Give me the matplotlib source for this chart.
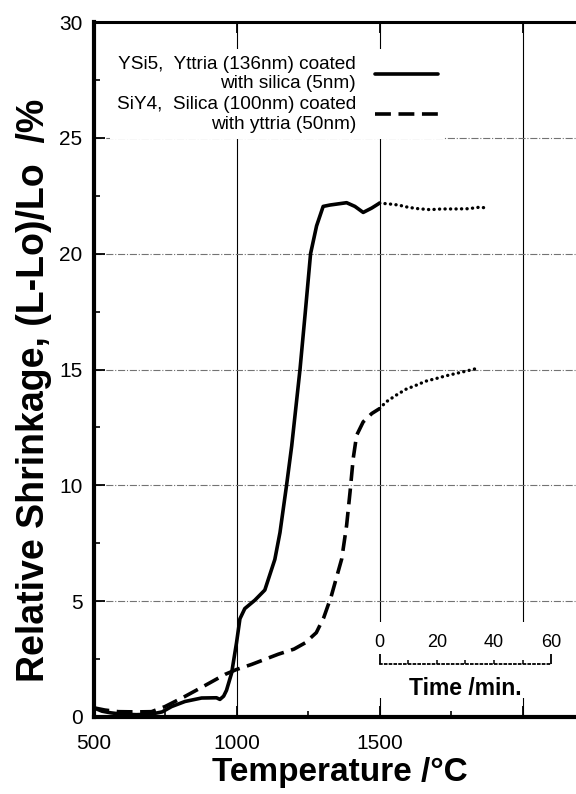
import numpy as np
import matplotlib
matplotlib.use("Agg")
import matplotlib.pyplot as plt
from matplotlib.ticker import FixedLocator, FuncFormatter

plt.rcParams['font.family'] = ['Liberation Sans', 'DejaVu Sans']

# heating part, temperature in degC vs shrinkage in %
ysi5_temp = [500, 530, 560, 600, 650, 700, 740, 773, 820, 878, 930, 942, 955, 965, 983,
             1000, 1012, 1029, 1064, 1099, 1134, 1152, 1175, 1193, 1222, 1240, 1259,
             1280, 1303, 1327, 1385, 1414, 1443, 1473, 1500]
ysi5_shr = [0.4, 0.25, 0.18, 0.12, 0.1, 0.12, 0.22, 0.45, 0.67, 0.82, 0.83, 0.76, 0.9, 1.15, 1.9,
            3.2, 4.24, 4.68, 5.04, 5.48, 6.8, 7.96, 10.0, 11.7, 15.0, 17.4, 20.0,
            21.2, 22.04, 22.1, 22.2, 22.04, 21.78, 21.97, 22.18]

siy4_temp = [500, 540, 587, 650, 703, 750, 820, 890, 960, 1000, 1053, 1146, 1201, 1240,
             1279, 1305, 1331, 1368, 1385, 1397, 1408, 1420, 1443, 1473, 1500]
siy4_shr = [0.4, 0.3, 0.23, 0.22, 0.23, 0.45, 0.89, 1.36, 1.84, 2.05, 2.27, 2.71, 2.93, 3.2,
            3.64, 4.29, 5.2, 6.83, 8.27, 9.71, 11.15, 12.16, 12.74, 13.1, 13.31]

# isothermal hold at 1500 degC, time in min
ysi5_time = [0, 3.1, 6.6, 10.1, 13.6, 17.7, 21.8, 26.5, 31.1, 34.6, 37.5]
ysi5_hold = [22.18, 22.15, 22.1, 22.0, 21.94, 21.9, 21.93, 21.93, 21.94, 22.0, 21.98]
siy4_time = [0, 2.3, 5.8, 9.3, 12.8, 16.3, 19.8, 23.3, 26.8, 30.3, 33.8]
siy4_hold = [13.31, 13.6, 13.89, 14.15, 14.32, 14.5, 14.61, 14.73, 14.83, 14.93, 15.04]

label_ysi5 = 'YSi5,  Yttria (136nm) coated\nwith silica (5nm)'
label_siy4 = 'SiY4,  Silica (100nm) coated\nwith yttria (50nm)'

x_ticks = [500, 1000, 1500, 2000]
x_ticklabels = ['500', '1000', '1500', '']
time_ticks = [0, 10, 20, 30, 40, 50, 60]

T_MAX = 2500
HOLD_T = 1500       # time axis starts here
C_PER_MIN = 10      # 1 min on the time scale = 10 degC on the temperature scale

W, H = 576, 794
fig = plt.figure(figsize=(W / 100, H / 100), dpi=100)
ax = fig.add_axes([93.5 / W, (H - 717) / H, 572 / W, 695 / H])

ax.set_xlim(500, T_MAX)
ax.set_ylim(0, 30)

l1, = ax.plot(ysi5_temp, ysi5_shr, color='black', lw=2.6, solid_capstyle='round', zorder=3)
l2, = ax.plot(siy4_temp, siy4_shr, color='black', lw=2.6, dashes=(4.4, 2.1), zorder=3)

# time axis overlay for the hold at 1500
ax2 = ax.twiny()
ax2.set_xlim((500 - HOLD_T) / C_PER_MIN, (T_MAX - HOLD_T) / C_PER_MIN)
dot = (0, (0.05, 1.6))
ax2.plot(ysi5_time, ysi5_hold, color='black', lw=2.4, ls=dot, dash_capstyle='round')
ax2.plot(siy4_time, siy4_hold, color='black', lw=2.4, ls=dot, dash_capstyle='round')
ax2.axis('off')

for s in ['left', 'bottom']:
    ax.spines[s].set_linewidth(3)
ax.spines['top'].set_linewidth(2.2)
ax.spines['right'].set_visible(False)

ax.set_xticks(x_ticks)
ax.set_xticklabels(x_ticklabels)
ax.xaxis.set_minor_locator(FixedLocator([750, 1250, 1750, 2250]))
ax.set_yticks(np.arange(0, 31, 5))
ax.yaxis.set_minor_locator(FixedLocator(np.arange(2.5, 30, 5)))
ax.tick_params(axis='both', which='major', direction='in', length=8, width=1.3, labelsize=15)
ax.tick_params(axis='x', which='major', top=True, pad=12)
ax.tick_params(axis='y', which='major', pad=8)
ax.tick_params(axis='both', which='minor', direction='in', length=4, width=1.2, top=False)

ax.set_axisbelow(True)
ax.grid(axis='x', color='black', lw=0.8, ls='-')
ax.grid(axis='y', color='0.45', lw=0.8, ls='-.')

ax.set_xlabel('Temperature /°C', fontsize=24, fontweight='bold')
ax.xaxis.set_label_coords((340 - 93.5) / 572, -0.058)
ax.set_ylabel('Relative Shrinkage, (L-Lo)/Lo  /%', fontsize=27, fontweight='bold')
ax.yaxis.set_label_coords((52 - 93.5) / 572, (717 - 390) / 695)

leg = ax.legend([l1, l2], [label_ysi5, label_siy4], loc='upper left',
                bbox_to_anchor=(0.012, 0.975), markerfirst=False, alignment='right',
                fontsize=13.7, handlelength=3.3, handletextpad=1.0, labelspacing=0.2,
                frameon=True, framealpha=1, facecolor='white', edgecolor='none',
                borderpad=0.35, fancybox=False)
for t in leg.get_texts():
    t.set_multialignment('right')

# inset time scale (white box hides the grid behind it)
ax_in = ax.inset_axes([1460, 0.8, T_MAX - 1460, 3.3], transform=ax.transData)
ax_in.set_xlim((1460 - HOLD_T) / C_PER_MIN, (T_MAX - HOLD_T) / C_PER_MIN)
ax_in.set_ylim(0.8, 4.1)
ax_in.set_facecolor('white')
for s in ['left', 'right', 'bottom']:
    ax_in.spines[s].set_visible(False)
ax_in.spines['top'].set_position(('data', 2.3))
ax_in.spines['top'].set_bounds(0, 60)
ax_in.spines['top'].set_linestyle(':')
ax_in.spines['top'].set_linewidth(1.3)
ax_in.set_yticks([])
ax_in.xaxis.set_ticks_position('top')
ax_in.xaxis.set_major_locator(FixedLocator([time_ticks[0], time_ticks[-1]]))
ax_in.xaxis.set_minor_locator(FixedLocator(time_ticks[1:-1]))
ax_in.xaxis.set_major_formatter(FuncFormatter(lambda v, p: '%d' % v))
ax_in.xaxis.set_minor_formatter(FuncFormatter(lambda v, p: '%d' % v if v in (20, 40) else ''))
ax_in.tick_params(axis='x', which='major', direction='out', length=7, width=1.3, pad=2, labelsize=13)
ax_in.tick_params(axis='x', which='minor', direction='out', length=3, width=1.1, pad=6, labelsize=13)
ax_in.text(30, 1.25, 'Time /min.', ha='center', va='center', fontsize=16.5, fontweight='bold')

fig.savefig('out.png', dpi=100)
